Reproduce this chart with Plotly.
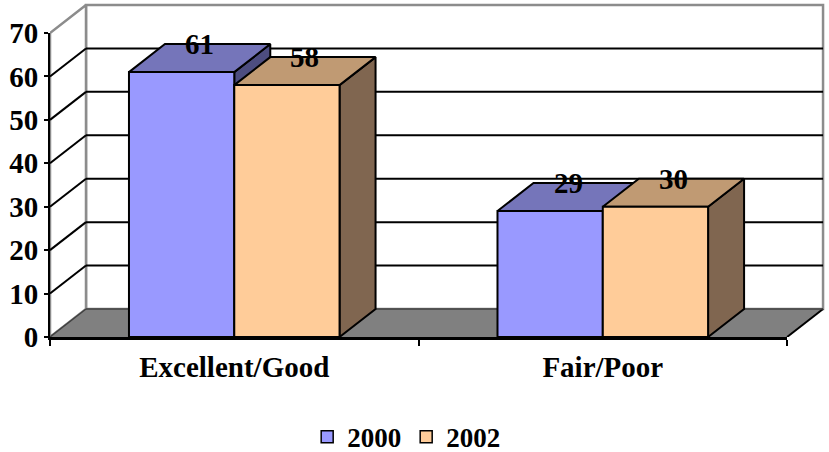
import plotly.graph_objects as go

# ---- data ----
categories = ["Excellent/Good", "Fair/Poor"]
series_names = ["2000", "2002"]
values_2000 = [61, 29]
values_2002 = [58, 30]
y_ticks = [0, 10, 20, 30, 40, 50, 60, 70]

# ---- styling / geometry of the pseudo-3D box ----
FRONT_COLORS = ["#9999FF", "#FFCC99"]
TOP_COLORS = ["#7575BA", "#C09A73"]
SIDE_COLORS = ["#4D4D80", "#806650"]
WALL_EDGE = "#8C8C8C"
FLOOR_FILL = "#808080"
FONT = dict(family="Liberation Serif", size=29, color="black", weight="bold")
LEGEND_FONT = dict(family="Liberation Serif", size=27, color="black", weight="bold")

Y_MAX = 70
DX = 0.0977          # depth offset along the category axis
DY = 6.45            # depth offset along the value axis
GAP_WIDTH = 1.5      # gap between groups, in bar widths
X0 = -0.5
X1 = len(categories) - 0.5
X_HI = X1 + DX + 0.008
Y_HI = Y_MAX + DY + 0.92

series_values = [values_2000, values_2002]
n_series = len(series_values)
bar_w = 1.0 / (n_series + GAP_WIDTH)

fig = go.Figure()


def polygon(xs, ys, fill, line_color="black", line_width=2):
    fig.add_trace(go.Scatter(
        x=list(xs) + [xs[0]], y=list(ys) + [ys[0]],
        mode="lines", fill="toself", fillcolor=fill,
        line=dict(color=line_color, width=line_width),
        hoverinfo="skip", showlegend=False))


def segments(pairs, color, width):
    xs, ys = [], []
    for (xa, ya), (xb, yb) in pairs:
        xs += [xa, xb, None]
        ys += [ya, yb, None]
    fig.add_trace(go.Scatter(x=xs, y=ys, mode="lines",
                             line=dict(color=color, width=width),
                             hoverinfo="skip", showlegend=False))


# back wall and left wall
polygon([X0 + DX, X1 + DX, X1 + DX, X0 + DX],
        [DY, DY, Y_MAX + DY, Y_MAX + DY], "white", WALL_EDGE, 2.5)
polygon([X0, X0 + DX, X0 + DX, X0],
        [0, DY, Y_MAX + DY, Y_MAX], "white", WALL_EDGE, 2.5)

# floor
polygon([X0, X0 + DX, X1 + DX, X1], [0, DY, DY, 0], FLOOR_FILL, FLOOR_FILL, 0)
segments([((X1, 0), (X1 + DX, DY))], "black", 2)
segments([((X0 + DX, DY), (X1 + DX, DY)), ((X0, 0), (X0 + DX, DY))], "#404040", 1.5)

# gridlines on the back wall and the left wall
grid_pairs = []
for v in y_ticks:
    if v == 0 or v == Y_MAX:
        continue
    grid_pairs.append(((X0 + DX, v + DY), (X1 + DX, v + DY)))
    grid_pairs.append(((X0, v), (X0 + DX, v + DY)))
segments(grid_pairs, "black", 2)

# bars: side, top and front faces
for ci in range(len(categories)):
    for si in range(n_series):
        v = series_values[si][ci]
        xa = ci - n_series * bar_w / 2 + si * bar_w
        xb = xa + bar_w
        polygon([xb, xb + DX, xb + DX, xb], [0, DY, v + DY, v], SIDE_COLORS[si])
        polygon([xa, xb, xb + DX, xa + DX], [v, v, v + DY, v + DY], TOP_COLORS[si])
        polygon([xa, xb, xb, xa], [0, 0, v, v], FRONT_COLORS[si])
        fig.add_annotation(x=(xa + xb) / 2 + DX / 2, y=v + DY, text=str(v),
                           showarrow=False, yanchor="middle", xanchor="center",
                           font=FONT)

# legend entries
for si, name in enumerate(series_names):
    fig.add_trace(go.Bar(x=[None], y=[None], name=name,
                         marker=dict(color=FRONT_COLORS[si],
                                     line=dict(color="black", width=1.5))))

# front axes live on their own subplot
fig.add_trace(go.Scatter(x=[None], y=[None], xaxis="x2", yaxis="y2",
                         showlegend=False, hoverinfo="skip"))

fig.update_layout(
    width=829, height=452,
    margin=dict(l=50, r=3, t=1, b=115, autoexpand=False),
    paper_bgcolor="white", plot_bgcolor="rgba(0,0,0,0)",
    font=FONT,
    showlegend=True,
    legend=dict(orientation="h", x=0.459, xanchor="center", y=-0.298,
                yanchor="middle", font=LEGEND_FONT, itemwidth=30,
                bgcolor="rgba(0,0,0,0)"),
    xaxis=dict(range=[X0, X_HI], visible=False, fixedrange=True),
    yaxis=dict(range=[0, Y_HI], visible=False, fixedrange=True),
    xaxis2=dict(domain=[0, (X1 - X0) / (X_HI - X0)], range=[X0, X1],
                anchor="y2", showline=True, linecolor="black", linewidth=2.5,
                tickmode="array", tickvals=list(range(len(categories))),
                ticktext=categories, ticks="outside", ticklen=2,
                tickcolor="rgba(0,0,0,0)",
                minor=dict(tickmode="array", tickvals=[X0 + i for i in range(len(categories) + 1)],
                           ticks="outside", ticklen=6, tickwidth=2, tickcolor="black"),
                showgrid=False, zeroline=False, tickfont=FONT, fixedrange=True),
    yaxis2=dict(domain=[0, Y_MAX / Y_HI], range=[0, Y_MAX], anchor="x2",
                showline=True, linecolor="black", linewidth=2,
                tickmode="array", tickvals=y_ticks, ticks="outside",
                ticklen=4, tickwidth=2, tickcolor="black",
                showgrid=False, zeroline=False, tickfont=FONT, fixedrange=True),
)

fig.write_html("out.html")
